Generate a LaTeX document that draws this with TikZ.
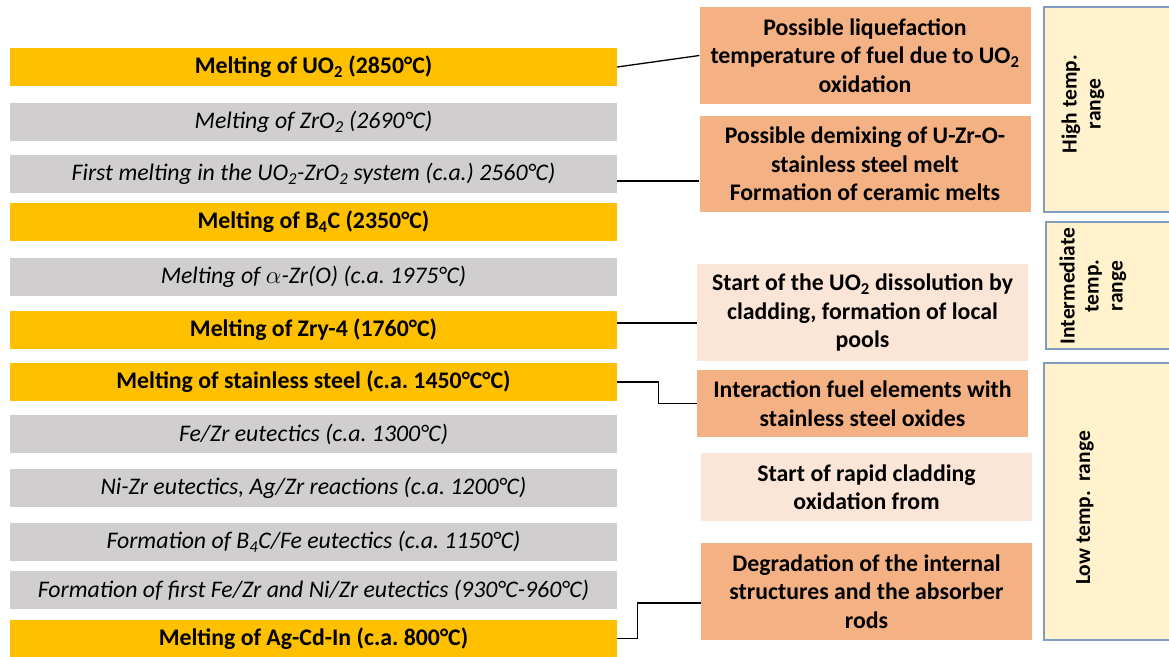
\documentclass[tikz,border=0pt]{standalone}
\usepackage{fontspec}
\setmainfont{Carlito}
\frenchspacing
\definecolor{barorange}{HTML}{FFC000}
\definecolor{bargray}{HTML}{D0CECE}
\definecolor{salmon}{HTML}{F4B183}
\definecolor{peach}{HTML}{FBE5D6}
\definecolor{rangefill}{HTML}{FFF2CC}
\definecolor{rangeedge}{HTML}{7F9CC0}
\begin{document}
\begin{tikzpicture}[x=1pt,y=-1pt,
  hotbar/.style={fill=barorange, minimum width=607pt, minimum height=38pt, inner sep=0pt,
    font=\fontsize{23.8}{28}\selectfont\bfseries},
  coolbar/.style={fill=bargray, minimum width=607pt, minimum height=38pt, inner sep=0pt,
    font=\fontsize{23.8}{28}\selectfont\itshape},
  effect/.style={align=center, minimum width=331pt, inner sep=0pt,
    font=\fontsize{23.8}{28.5}\selectfont\bfseries},
  strong/.style={effect, fill=salmon},
  weak/.style={effect, fill=peach},
  rangebox/.style={fill=rangefill, draw=rangeedge, line width=1.2pt, inner sep=0pt},
  rangelabel/.style={rotate=90, align=center, inner sep=0pt,
    font=\fontsize{21.5}{24}\selectfont\bfseries},
  link/.style={draw=black, line width=1.3pt}
]
\useasboundingbox (0,0) rectangle (1169,656);
\clip (0,0) rectangle (1169,656);

% left bars
\node[hotbar]  (b1)  at (313.5,67)    {Melting of UO\textsubscript{2} (2850°C)};
\node[coolbar] (b2)  at (313.5,122)   {Melting of ZrO\textsubscript{2} (2690°C)};
\node[coolbar] (b3)  at (313.5,174)   {First melting in the UO\textsubscript{2}-ZrO\textsubscript{2} system (c.a.) 2560°C)};
\node[hotbar]  (b4)  at (313.5,222)   {Melting of B\textsubscript{4}C (2350°C)};
\node[coolbar] (b5)  at (313.5,276.5) {Melting of $\alpha$-Zr(O) (c.a. 1975°C)};
\node[hotbar]  (b6)  at (313.5,330)   {Melting of Zry-4 (1760°C)};
\node[hotbar]  (b7)  at (313.5,382)   {Melting of stainless steel (c.a. 1450°C°C)};
\node[coolbar] (b8)  at (313.5,434)   {Fe/Zr eutectics (c.a. 1300°C)};
\node[coolbar] (b9)  at (313.5,488)   {Ni-Zr eutectics, Ag/Zr reactions (c.a. 1200°C)};
\node[coolbar] (b10) at (313.5,542)   {Formation of B\textsubscript{4}C/Fe eutectics (c.a. 1150°C)};
\node[coolbar] (b11) at (313.5,590)   {Formation of first Fe/Zr and Ni/Zr eutectics (930°C-960°C)};
\node[hotbar, minimum height=37pt] (b12) at (313.5,638.5) {Melting of Ag-Cd-In (c.a. 800°C)};

% right effect boxes
\node[strong, minimum height=97pt] (r1) at (865,55.5)
  {Possible liquefaction\\temperature of fuel due to UO\textsubscript{2}\\oxidation};
\node[strong, minimum height=96pt] (r2) at (865,164)
  {Possible demixing of U-Zr-O-\\stainless steel melt\\Formation of ceramic melts};
\node[weak, minimum height=97pt] (r3) at (862.5,312.5)
  {Start of the UO\textsubscript{2} dissolution by\\cladding, formation of local\\pools};
\node[strong, minimum height=67pt] (r4) at (862.5,403.5)
  {Interaction fuel elements with\\stainless steel oxides};
\node[weak, minimum height=68pt] (r5) at (866.5,487)
  {Start of rapid cladding\\oxidation from};
\node[strong, minimum height=97pt] (r6) at (866.5,591.5)
  {Degradation of the internal\\structures and the absorber\\rods};

% temperature ranges
\node[rangebox, minimum width=141pt, minimum height=205pt] (hi)  at (1114.5,109.5) {};
\node[rangebox, minimum width=140pt, minimum height=127pt] (mid) at (1116,285.5) {};
\node[rangebox, minimum width=141pt, minimum height=277pt] (lo)  at (1114.5,501.5) {};
\node[rangelabel] (hil)  at (1083,104)   {High temp.\\range};
\node[rangelabel] (midl) at (1093,286)   {Intermediate\\temp.\\range};
\node[rangelabel] (lol)  at (1085,508)   {Low temp.\ \ range};

% connectors
\draw[link] (b1.east) -- (r1.west);
\draw[link] (b3.east |- 0,181) -- (r2.west |- 0,181);
\draw[link] (b6.east |- 0,323) -- (r3.west |- 0,323);
\draw[link] (b7.east) -- ++(41,0) |- (r4.west);
\draw[link] (b12.east) -- ++(20,0) |- (r6.west |- 0,603);
\end{tikzpicture}
\end{document}
